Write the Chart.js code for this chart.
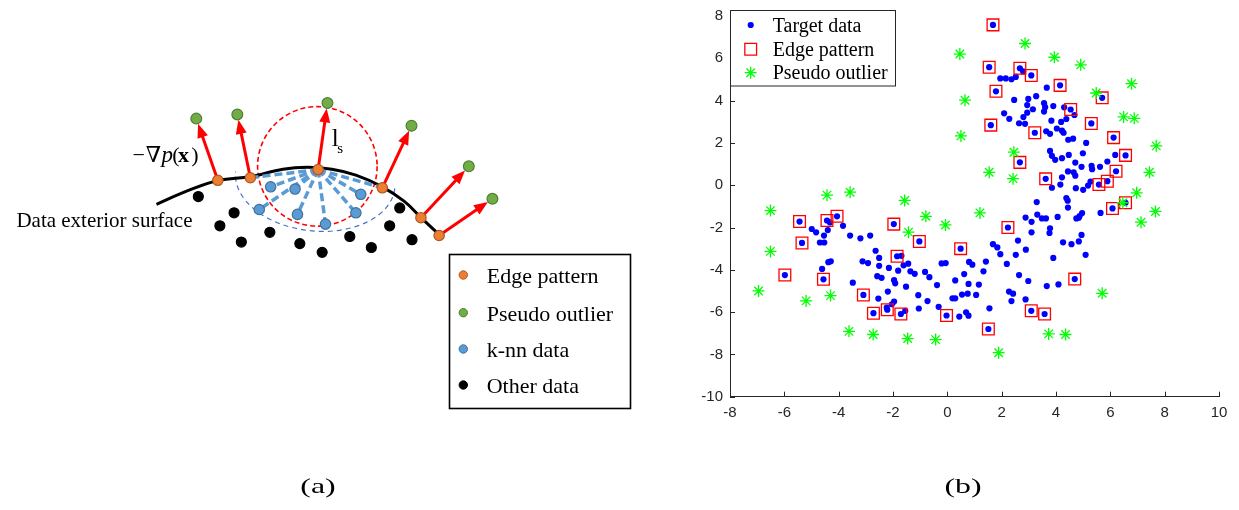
<!DOCTYPE html>
<html><head><meta charset="utf-8">
<script src="https://cdn.jsdelivr.net/npm/chart.js@4.4.1/dist/chart.umd.min.js"></script>
<style>
html,body{margin:0;padding:0;background:#fff;}
#wrap{position:relative;width:1239px;height:510px;overflow:hidden;background:#fff;}
canvas{position:absolute;top:0;}
.cap{position:absolute;top:475px;font-family:'Liberation Serif',serif;font-size:22px;line-height:22px;color:#000;white-space:nowrap;transform:translateX(-50%) scaleX(1.45);}
</style></head><body>
<div id="wrap">
<canvas id="ca" width="650" height="510" style="left:0"></canvas>
<canvas id="cb" width="589" height="510" style="left:650px"></canvas>
<div class="cap" style="left:318px">(a)</div>
<div class="cap" style="left:963px">(b)</div>
</div>
<script>
// ---------- Panel (b) data ----------
const targetData = [
[1.95,5.05],[2.15,5.05],[2.36,5.01],[2.52,5.12],[2.79,5.38],
[3.66,4.61],[2.46,4.03],[2.98,4.08],[3.27,4.21],
[2.94,3.79],[3.56,3.88],[3.6,3.69],[3.9,3.74],[4.3,3.68],[4.68,3.32],
[3.15,3.59],[2.94,3.43],[3.56,3.48],[2.09,3.4],[2.28,3.14],[2.8,3.22],
[2.64,2.93],[2.86,2.9],[3.83,3.05],[4.19,2.99],[4.38,3.13],
[3.64,2.55],[3.78,2.43],[4.03,2.68],[4.22,2.58],[4.28,2.48],
[4.45,2.15],[4.63,2.2],[5.11,2.0],
[3.78,1.62],[3.85,1.39],[3.97,1.2],[4.22,1.28],[4.47,1.43],[4.99,1.51],[6.18,1.43],
[4.71,1.07],[4.94,0.87],[5.31,0.92],[5.33,0.76],[5.62,0.87],[5.89,1.12],
[4.22,0.37],[4.16,0.03],[3.85,-0.12],[4.44,0.65],[4.65,0.61],[4.71,0.45],
[4.73,-0.14],[5.0,-0.22],[5.18,-0.02],[5.27,0.17],
[3.29,-0.8],[4.38,-0.61],[4.43,-0.73],[4.44,-1.06],
[5.64,-1.31],[4.96,-1.32],[4.84,-1.54],[4.75,-1.57],[4.87,-1.46],
[4.06,-1.5],[3.48,-1.57],[3.63,-1.57],[3.31,-1.39],[3.1,-1.73],[2.88,-1.53],
[3.78,-2.04],[3.76,-2.26],[3.1,-2.23],
[4.94,-2.35],[4.84,-2.66],[4.57,-2.79],[4.26,-2.7],
[2.6,-2.62],[1.68,-2.79],[1.84,-2.94],[2.89,-3.05],
[1.95,-3.26],[2.52,-3.29],[3.9,-3.44],[5.09,-3.29],
[0.8,-3.63],[0.92,-3.76],[1.42,-3.61],[1.33,-4.07],[2.19,-3.72],
[0.62,-4.2],[0.29,-4.5],[0.78,-4.67],[1.16,-4.7],
[2.64,-4.25],[2.98,-4.53],[3.66,-4.77],[4.09,-4.69],
[2.27,-5.03],[2.42,-5.13],[2.36,-5.48],[2.88,-5.4],
[0.19,-5.35],[0.29,-5.35],[0.54,-5.17],[0.75,-5.13],[1.06,-5.19],
[1.55,-5.82],[0.44,-6.21],[0.69,-6.01],[0.78,-6.17],
[-4.99,-2.07],[-4.83,-2.23],[-4.32,-1.76],
[-4.4,-2.12],[-4.54,-2.38],[-4.69,-2.71],[-4.53,-2.71],
[-3.84,-1.92],[-3.58,-2.38],[-3.2,-2.51],[-2.84,-2.38],
[-2.64,-3.1],[-2.51,-3.44],[-3.12,-3.6],[-2.92,-3.68],[-2.51,-3.81],[-2.15,-3.91],
[-1.69,-3.34],[-1.61,-3.79],[-1.44,-3.71],[-1.81,-4.04],
[-1.36,-4.07],[-1.2,-4.19],[-0.82,-4.1],[-0.66,-4.35],
[-4.38,-3.64],[-4.29,-3.6],[-4.61,-3.96],[-3.48,-4.61],
[-2.58,-4.3],[-2.42,-4.38],[-1.96,-4.49],[-1.92,-4.64],[-1.52,-4.8],
[-2.19,-5.03],[-2.54,-5.36],
[-1.96,-5.5],[-2.04,-5.63],[-2.23,-5.79],
[-1.55,-5.94],[-1.07,-5.2],[-0.73,-5.48],[-1.05,-5.83],[-0.32,-5.75],
[-0.38,-4.72],[-0.21,-3.7],[-0.06,-3.68]
];
const edgeData = [
[1.68,7.58],[1.54,5.58],[2.67,5.53],[3.09,5.19],[4.15,4.72],[1.79,4.44],[5.7,4.13],[4.54,3.58],
[1.6,2.84],[5.3,2.92],[3.22,2.48],[6.12,2.25],[6.56,1.41],[2.67,1.08],[6.21,0.66],[3.62,0.3],
[5.89,0.19],[5.58,0.03],[6.56,-0.83],[6.08,-1.1],
[-5.44,-1.72],[-4.43,-1.67],[-4.06,-1.47],[-1.97,-1.84],[-5.35,-2.73],[-1.03,-2.66],[0.49,-3.0],
[2.23,-2.0],[-1.85,-3.36],[-5.98,-4.25],[-4.56,-4.45],[-3.09,-5.19],[-2.72,-6.05],[-2.21,-5.89],
[-1.71,-6.09],[-0.03,-6.16],[1.51,-6.8],[3.09,-5.94],[3.58,-6.09],[4.69,-4.44]
];
const outlierData = [
[0.46,6.2],[2.86,6.7],[3.94,6.05],[4.91,5.69],[5.48,4.36],[6.78,4.8],[0.65,4.02],[6.49,3.23],
[6.88,3.16],[0.5,2.33],[7.69,1.86],[2.45,1.56],[1.54,0.61],[2.42,0.31],[7.44,0.61],[6.97,-0.36],
[6.46,-0.83],[-4.43,-0.47],[-3.58,-0.33],[-1.57,-0.72],[-6.51,-1.2],[7.66,-1.24],[-6.51,-3.13],
[-6.95,-5.0],[-5.2,-5.47],[-4.3,-5.22],[-3.62,-6.91],[-2.73,-7.06],[-1.46,-7.25],[-0.43,-7.3],
[1.89,-7.92],[3.73,-7.03],[4.35,-7.06],[5.7,-5.11],[7.13,-1.75],[-1.43,-2.22],[-0.79,-1.47],
[-0.07,-1.88],[1.2,-1.31]
];
const xTickValues = [-8,-6,-4,-2,0,2,4,6,8,10];
const xTickLabels = ['-8','-6','-4','-2','0','2','4','6','8','10'];
const yTickValues = [-10,-8,-6,-4,-2,0,2,4,6,8];
const yTickLabels = ['-10','-8','-6','-4','-2','0','2','4','6','8'];
const legendB = ['Target data','Edge pattern','Pseudo outlier'];

// ---------- Panel (a) diagram data (diagram units) ----------
const surfaceX = [153,185,216,249,282,307,332,356.5,383.5,406,423,441.5];
const surfaceY = [203,189,178.5,174.5,167,165,167,173,185,200,216.7,234];
const edgeAX = [215.6,248.8,318,383.5,422.9,441.5];
const edgeAY = [178.3,175.7,167.3,186,216.7,235];
const pseudoAX = [193.6,235.5,327.5,413.3,471.8,495.9];
const pseudoAY = [115,110.7,99,122.3,164,197.3];
const knnX = [269.5,294.4,257.9,296.9,325.5,356.5,361.5];
const knnY = [185,187.3,208.3,213.3,223.3,211.7,192.7];
const otherX = [195.7,232.2,217.7,239.6,268.7,299.3,322.1,350.3,372.3,401.3,391,413.8];
const otherY = [195,211.7,225,241.7,231.7,243.3,252.3,236,247.3,206.7,225,239.3];
const apexIndex = 2;
const searchRadius = 61;
const legendA = ['Edge pattern','Pseudo outlier','k-nn data','Other data'];

const SERIF = "'Liberation Serif','DejaVu Serif',serif";

// ================= Panel (a) =================
const styA = {
  edge:  {bg:'#ED7D31', bd:'#AE5A21'},
  pseudo:{bg:'#70AD47', bd:'#507E32'},
  knn:   {bg:'#5B9BD5', bd:'#41719C'},
  other: {bg:'#000000', bd:'#000000'}
};
function pts(xs, ys){ return xs.map((x,i)=>({x:x, y:ys[i]})); }

const rayTargets = pts(knnX, knnY).concat([{x:edgeAX[1],y:edgeAY[1]},{x:edgeAX[3],y:edgeAY[3]}]);
const rayDatasets = rayTargets.map(p => ({
  type:'line', showLine:true,
  data:[{x:edgeAX[apexIndex], y:edgeAY[apexIndex]}, p],
  borderColor:'#5B9BD5', borderWidth:3.5, borderDash:[8,4], pointRadius:0, order:8, fill:false
}));

const diagramPlugin = {
  id:'diagram',
  beforeDatasetsDraw(c){
    const ctx=c.ctx, xs=c.scales.x, ys=c.scales.y;
    const P=(x,y)=>[xs.getPixelForValue(x), ys.getPixelForValue(y)];
    ctx.save();
    const [cx,cy]=P(edgeAX[apexIndex]-0.8, edgeAY[apexIndex]-3.3);
    const r = xs.getPixelForValue(searchRadius) - xs.getPixelForValue(0);
    ctx.strokeStyle='#FF0000'; ctx.lineWidth=1.6; ctx.setLineDash([5,3]);
    ctx.beginPath(); ctx.arc(cx,cy,r,0,Math.PI*2); ctx.stroke();
    const [ex,ey]=P(315,178);
    ctx.strokeStyle='#4472C4'; ctx.lineWidth=1.2; ctx.setLineDash([5,4]);
    ctx.beginPath(); ctx.ellipse(ex,ey,80,51,0.105,0,Math.PI); ctx.stroke();
    ctx.setLineDash([]);
    ctx.strokeStyle='#FF0000'; ctx.fillStyle='#FF0000'; ctx.lineWidth=3;
    for(let i=0;i<edgeAX.length;i++){
      const [x0,y0]=P(edgeAX[i],edgeAY[i]); const [x1,y1]=P(pseudoAX[i],pseudoAY[i]);
      const dx=x1-x0, dy=y1-y0, L=Math.hypot(dx,dy), ux=dx/L, uy=dy/L;
      const tx=x1-ux*5.5, ty=y1-uy*5.5, hl=14, hw=5.5;
      const bx=tx-ux*hl, by=ty-uy*hl;
      ctx.beginPath(); ctx.moveTo(x0,y0); ctx.lineTo(bx+ux*2,by+uy*2); ctx.stroke();
      ctx.beginPath(); ctx.moveTo(tx,ty); ctx.lineTo(bx-uy*hw,by+ux*hw); ctx.lineTo(bx+uy*hw,by-ux*hw); ctx.closePath(); ctx.fill();
    }
    ctx.restore();
  },
  afterDraw(c){
    const ctx=c.ctx, xs=c.scales.x, ys=c.scales.y;
    const P=(x,y)=>[xs.getPixelForValue(x), ys.getPixelForValue(y)];
    ctx.save();
    ctx.fillStyle='#000'; ctx.textAlign='left'; ctx.textBaseline='alphabetic';
    let [tx,ty]=P(10,226.5);
    ctx.font="21px "+SERIF; ctx.fillText('Data exterior surface',tx,ty);
    const g=[['\u2212',128.5,"22px "+SERIF],['\u2207',142,"22px "+SERIF],['p',158,"italic 23px "+SERIF],['(',169,"22px "+SERIF],['x',175,"bold 22px "+SERIF],[')',188.5,"22px "+SERIF]];
    g.forEach(([s,x,f])=>{ const [gx,gy]=P(x,160); ctx.font=f; ctx.fillText(s,gx,gy); });
    [tx,ty]=P(332,143.5); ctx.font="25px "+SERIF; ctx.fillText('l',tx,ty);
    [tx,ty]=P(337.5,150.5); ctx.font="15px "+SERIF; ctx.fillText('s',tx,ty);
    ctx.strokeStyle='#000'; ctx.lineWidth=1.6;
    ctx.strokeRect(449.5,254.5,181,154);
    const rows=[275,312.7,349,385];
    const st=[styA.edge,styA.pseudo,styA.knn,styA.other];
    ctx.font="22px "+SERIF;
    legendA.forEach((lab,i)=>{
      ctx.fillStyle=st[i].bg; ctx.strokeStyle=st[i].bd; ctx.lineWidth=1;
      Chart.helpers.drawPoint(ctx,{pointStyle:'circle',radius:4.2,borderWidth:1,rotation:0},463.3,rows[i]);
      ctx.fillStyle='#000';
      ctx.fillText(lab,486.7,rows[i]+8);
    });
    ctx.restore();
  }
};

const ptDS = (xs,ys,s,r,order) => ({type:'scatter', data:pts(xs,ys), pointRadius:r, pointBackgroundColor:s.bg,
  pointBorderColor:s.bd, pointBorderWidth:1.2, showLine:false, order:order});

new Chart(document.getElementById('ca'), {
  type:'scatter',
  data:{datasets:[
    {type:'line', showLine:true, data:pts(surfaceX,surfaceY), borderColor:'#000', borderWidth:3, pointRadius:0, tension:0.4, fill:false, order:9},
    ...rayDatasets,
    ptDS(otherX,otherY,styA.other,5,2),
    ptDS(knnX,knnY,styA.knn,5.2,1),
    ptDS(pseudoAX,pseudoAY,styA.pseudo,5.4,1),
    ptDS(edgeAX,edgeAY,styA.edge,5.2,0)
  ]},
  options:{
    responsive:false, devicePixelRatio:1, animation:false, events:[],
    layout:{padding:0},
    plugins:{legend:{display:false}, tooltip:{enabled:false}},
    scales:{
      x:{type:'linear', min:0, max:650, display:false},
      y:{type:'linear', min:0, max:510, reverse:true, display:false}
    }
  },
  plugins:[diagramPlugin]
});

// ================= Panel (b) =================
const AXC='#262626';
const styB = {
  target:{pointStyle:'circle', radius:3.1, bg:'#0000FF', bd:'#0000FF', bw:0},
  edge:{pointStyle:'rect', radius:8.3, bg:'rgba(0,0,0,0)', bd:'#FF0000', bw:1.3},
  pseudo:{pointStyle:'star', radius:6, bg:'#00FF00', bd:'#00FF00', bw:1.3}
};
const toXY = arr => arr.map(p=>({x:p[0], y:p[1]}));
const innerTicks = {
  id:'innerTicks',
  afterDraw(c){
    const ctx=c.ctx, a=c.chartArea, xs=c.scales.x, ys=c.scales.y;
    ctx.save(); ctx.strokeStyle=AXC; ctx.lineWidth=1;
    xTickValues.forEach(v=>{ const p=Math.round(xs.getPixelForValue(v))+0.5;
      ctx.beginPath(); ctx.moveTo(p,a.bottom); ctx.lineTo(p,a.bottom-5); ctx.stroke(); });
    yTickValues.forEach(v=>{ const p=Math.round(ys.getPixelForValue(v))+0.5;
      ctx.beginPath(); ctx.moveTo(a.left,p); ctx.lineTo(a.left+5,p); ctx.stroke(); });
    const L=a.left, T=10.5;
    ctx.fillStyle='#fff'; ctx.fillRect(L,T,165,75.5);
    ctx.strokeStyle=AXC; ctx.lineWidth=1; ctx.strokeRect(L+0.5,T,165,75.5);
    const rows=[25,49.3,72.7], st=[styB.target,styB.edge,styB.pseudo];
    ctx.font="20px "+SERIF; ctx.textAlign='left'; ctx.textBaseline='alphabetic';
    legendB.forEach((lab,i)=>{
      const s=st[i];
      ctx.fillStyle=s.bg; ctx.strokeStyle=s.bd; ctx.lineWidth=s.bw||1;
      if(s.pointStyle==='rect'){ ctx.fillStyle='rgba(0,0,0,0)'; }
      Chart.helpers.drawPoint(ctx,{pointStyle:s.pointStyle,radius:s.radius,borderWidth:s.bw,rotation:0},L+20.7,rows[i]);
      ctx.fillStyle='#000';
      ctx.fillText(lab,L+42.7,rows[i]+6.7);
    });
    ctx.restore();
  }
};
const dsB = (data,s,order) => ({data:data, pointStyle:s.pointStyle, pointRadius:s.radius, pointBackgroundColor:s.bg,
  pointBorderColor:s.bd, pointBorderWidth:s.bw, showLine:false, order:order});

new Chart(document.getElementById('cb'), {
  type:'scatter',
  data:{datasets:[
    dsB(toXY(targetData).concat(toXY(edgeData)), styB.target, 3),
    dsB(toXY(edgeData), styB.edge, 2),
    dsB(toXY(outlierData), styB.pseudo, 1)
  ]},
  options:{
    responsive:false, devicePixelRatio:1, animation:false, events:[],
    layout:{padding:{left:0,right:20,top:11.5,bottom:83.3}},
    plugins:{legend:{display:false}, tooltip:{enabled:false}},
    scales:{
      x:{type:'linear', min:-8, max:10,
        afterBuildTicks:s=>{ s.ticks = xTickValues.map(v=>({value:v})); },
        afterFit:s=>{ s.height=30; },
        grid:{display:false, drawTicks:false},
        border:{display:true, color:AXC, width:1},
        ticks:{padding:7, color:AXC, maxRotation:0, autoSkip:false, font:{family:"'Liberation Sans',Arial,sans-serif", size:15},
          callback:(v,i)=>xTickLabels[i]}
      },
      y:{type:'linear', min:-10, max:8,
        afterBuildTicks:s=>{ s.ticks = yTickValues.map(v=>({value:v})); },
        afterFit:s=>{ s.width=80; },
        grid:{display:false, drawTicks:false},
        border:{display:true, color:AXC, width:1},
        ticks:{padding:7, color:AXC, autoSkip:false, font:{family:"'Liberation Sans',Arial,sans-serif", size:15},
          callback:(v,i)=>yTickLabels[i]}
      }
    }
  },
  plugins:[innerTicks]
});
</script>
</body></html>
